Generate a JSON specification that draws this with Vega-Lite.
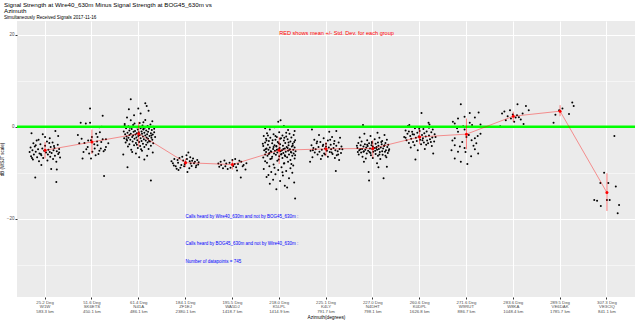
{
"$schema":"https://vega.github.io/schema/vega-lite/v6.json",
"width":618,"height":276,
"autosize":{"type":"none"},
"padding":{"left":17,"top":21,"right":5,"bottom":26},
"background":"white",
"config":{"font":"Liberation Sans","view":{"fill":"#EBEBEB","stroke":null}},
"title":{"text":["Signal Strength at Wire40_630m Minus Signal Strength at BOG45_630m vs","Azimuth"],"subtitle":"Simultaneously Received Signals 2017-11-16","anchor":"start","frame":"group","dx":-13,"fontSize":6.2,"fontWeight":"normal","lineHeight":5.5,"subtitleFontSize":4.6,"subtitlePadding":1.5,"offset":1,"color":"black","subtitleColor":"black"},
"datasets":{
"pts":[
{"g":1,"j":-0.29,"v":-1.4},{"g":1,"j":-0.05,"v":-1.6},{"g":1,"j":0.22,"v":-0.9},{"g":1,"j":0.1,"v":-2.5},{"g":1,"j":-0.18,"v":-3.0},{"g":1,"j":0.04,"v":-3.2},{"g":1,"j":0.16,"v":-3.4},{"g":1,"j":-0.25,"v":-3.6},{"g":1,"j":-0.1,"v":-3.8},{"g":1,"j":0.27,"v":-3.9},{"g":1,"j":0.0,"v":-4.1},{"g":1,"j":-0.22,"v":-4.3},{"g":1,"j":0.12,"v":-4.4},{"g":1,"j":-0.31,"v":-4.5},{"g":1,"j":0.2,"v":-4.6},{"g":1,"j":-0.06,"v":-4.7},{"g":1,"j":0.3,"v":-4.8},{"g":1,"j":-0.15,"v":-4.9},{"g":1,"j":0.07,"v":-5.0},{"g":1,"j":-0.27,"v":-5.1},{"g":1,"j":0.18,"v":-5.1},{"g":1,"j":-0.02,"v":-5.2},{"g":1,"j":0.25,"v":-5.3},{"g":1,"j":-0.2,"v":-5.4},{"g":1,"j":0.1,"v":-5.5},{"g":1,"j":-0.33,"v":-5.5},{"g":1,"j":0.02,"v":-5.6},{"g":1,"j":0.14,"v":-5.7},{"g":1,"j":-0.12,"v":-5.8},{"g":1,"j":0.28,"v":-5.9},{"g":1,"j":-0.24,"v":-6.0},{"g":1,"j":0.06,"v":-6.0},{"g":1,"j":-0.08,"v":-6.2},{"g":1,"j":0.21,"v":-6.3},{"g":1,"j":-0.3,"v":-6.4},{"g":1,"j":0.11,"v":-6.5},{"g":1,"j":-0.17,"v":-6.6},{"g":1,"j":0.32,"v":-6.7},{"g":1,"j":-0.04,"v":-6.8},{"g":1,"j":0.17,"v":-7.0},{"g":1,"j":-0.26,"v":-7.1},{"g":1,"j":0.05,"v":-7.3},{"g":1,"j":-0.13,"v":-7.5},{"g":1,"j":0.24,"v":-7.6},{"g":1,"j":-0.2,"v":-4.0},{"g":1,"j":0.09,"v":-3.5},{"g":1,"j":-0.09,"v":-5.9},{"g":1,"j":0.19,"v":-4.2},{"g":1,"j":0.3,"v":-5.6},{"g":1,"j":-0.28,"v":-6.8},{"g":1,"j":0.13,"v":-9.2},{"g":1,"j":0.25,"v":-9.3},{"g":1,"j":-0.08,"v":-8.3},{"g":1,"j":-0.21,"v":-11.0},{"g":1,"j":0.24,"v":-12.0},{"g":1,"j":0.0,"v":-2.2},{"g":1,"j":-0.14,"v":-2.8},{"g":1,"j":0.28,"v":-2.0},
{"g":2,"j":-0.04,"v":4.0},{"g":2,"j":0.23,"v":2.4},{"g":2,"j":-0.24,"v":0.9},{"g":2,"j":-0.13,"v":0.7},{"g":2,"j":-0.04,"v":0.9},{"g":2,"j":0.16,"v":-0.1},{"g":2,"j":0.21,"v":0.0},{"g":2,"j":0.12,"v":-2.2},{"g":2,"j":0.23,"v":-2.7},{"g":2,"j":0.11,"v":-3.2},{"g":2,"j":-0.27,"v":-3.6},{"g":2,"j":-0.16,"v":-3.5},{"g":2,"j":-0.02,"v":-2.9},{"g":2,"j":0.12,"v":-4.0},{"g":2,"j":0.19,"v":-4.7},{"g":2,"j":0.16,"v":-5.2},{"g":2,"j":0.01,"v":-5.4},{"g":2,"j":-0.06,"v":-5.8},{"g":2,"j":0.06,"v":-4.7},{"g":2,"j":0.3,"v":-2.7},{"g":2,"j":-0.2,"v":-6.9},{"g":2,"j":-0.02,"v":-6.9},{"g":2,"j":0.14,"v":-5.9},{"g":2,"j":0.26,"v":-10.7},{"g":2,"j":0.0,"v":-2.2},{"g":2,"j":-0.09,"v":-4.4},{"g":2,"j":0.25,"v":-5.3},{"g":2,"j":0.09,"v":-1.5},{"g":2,"j":0.35,"v":-3.6},{"g":2,"j":-0.3,"v":-1.8},{"g":2,"j":0.05,"v":-3.8},{"g":2,"j":-0.12,"v":-4.9},{"g":2,"j":0.2,"v":-3.3},{"g":2,"j":0.3,"v":-4.4},{"g":2,"j":-0.22,"v":-2.6},{"g":2,"j":0.17,"v":-1.2},{"g":2,"j":-0.08,"v":-3.0},{"g":2,"j":0.08,"v":-6.2},{"g":2,"j":0.28,"v":-5.0},{"g":2,"j":-0.18,"v":-5.5},
{"g":3,"j":-0.17,"v":6.0},{"g":3,"j":0.14,"v":5.1},{"g":3,"j":0.17,"v":4.5},{"g":3,"j":-0.01,"v":4.0},{"g":3,"j":-0.21,"v":3.8},{"g":3,"j":0.21,"v":3.5},{"g":3,"j":-0.1,"v":2.5},{"g":3,"j":0.04,"v":2.9},{"g":3,"j":-0.17,"v":1.4},{"g":3,"j":0.29,"v":1.2},{"g":3,"j":0.1,"v":1.0},{"g":3,"j":-0.25,"v":2.0},
{"g":3,"j":0.02,"v":0.8},{"g":3,"j":-0.3,"v":0.6},{"g":3,"j":0.25,"v":0.5},{"g":3,"j":-0.12,"v":0.4},{"g":3,"j":0.08,"v":0.3},{"g":3,"j":0.19,"v":0.2},{"g":3,"j":-0.22,"v":0.1},{"g":3,"j":0.31,"v":0.0},{"g":3,"j":-0.05,"v":-0.1},{"g":3,"j":0.13,"v":-0.2},
{"g":3,"j":-0.27,"v":-0.3},{"g":3,"j":0.04,"v":-0.3},{"g":3,"j":0.22,"v":-0.4},{"g":3,"j":-0.15,"v":-0.5},{"g":3,"j":0.1,"v":-0.5},{"g":3,"j":-0.02,"v":-0.6},{"g":3,"j":0.28,"v":-0.7},{"g":3,"j":-0.2,"v":-0.8},{"g":3,"j":0.16,"v":-0.8},{"g":3,"j":-0.08,"v":-0.9},
{"g":3,"j":0.06,"v":-1.0},{"g":3,"j":-0.32,"v":-1.0},{"g":3,"j":0.2,"v":-1.1},{"g":3,"j":-0.11,"v":-1.1},{"g":3,"j":0.33,"v":-1.2},{"g":3,"j":0.0,"v":-1.2},{"g":3,"j":-0.24,"v":-1.3},{"g":3,"j":0.12,"v":-1.3},{"g":3,"j":-0.04,"v":-1.4},{"g":3,"j":0.26,"v":-1.4},
{"g":3,"j":-0.17,"v":-1.5},{"g":3,"j":0.07,"v":-1.5},{"g":3,"j":-0.29,"v":-1.6},{"g":3,"j":0.18,"v":-1.6},{"g":3,"j":-0.07,"v":-1.7},{"g":3,"j":0.3,"v":-1.7},{"g":3,"j":0.02,"v":-1.8},{"g":3,"j":-0.2,"v":-1.8},{"g":3,"j":0.14,"v":-1.9},{"g":3,"j":-0.12,"v":-1.9},
{"g":3,"j":0.23,"v":-2.0},{"g":3,"j":-0.01,"v":-2.0},{"g":3,"j":-0.26,"v":-2.1},{"g":3,"j":0.09,"v":-2.1},{"g":3,"j":0.35,"v":-2.2},{"g":3,"j":-0.14,"v":-2.2},{"g":3,"j":0.17,"v":-2.3},{"g":3,"j":-0.05,"v":-2.3},{"g":3,"j":0.27,"v":-2.4},{"g":3,"j":-0.22,"v":-2.4},
{"g":3,"j":0.04,"v":-2.5},{"g":3,"j":-0.31,"v":-2.5},{"g":3,"j":0.2,"v":-2.6},{"g":3,"j":-0.09,"v":-2.6},{"g":3,"j":0.11,"v":-2.7},{"g":3,"j":-0.18,"v":-2.8},{"g":3,"j":0.29,"v":-2.8},{"g":3,"j":-0.03,"v":-2.9},{"g":3,"j":0.15,"v":-3.0},{"g":3,"j":-0.25,"v":-3.0},
{"g":3,"j":0.06,"v":-3.1},{"g":3,"j":0.24,"v":-3.2},{"g":3,"j":-0.13,"v":-3.2},{"g":3,"j":0.01,"v":-3.3},{"g":3,"j":-0.28,"v":-3.4},{"g":3,"j":0.19,"v":-3.4},{"g":3,"j":-0.06,"v":-3.5},{"g":3,"j":0.31,"v":-3.6},{"g":3,"j":0.09,"v":-3.7},{"g":3,"j":-0.2,"v":-3.8},
{"g":3,"j":0.16,"v":-3.9},{"g":3,"j":-0.1,"v":-4.0},{"g":3,"j":0.26,"v":-4.1},{"g":3,"j":0.03,"v":-4.2},{"g":3,"j":-0.23,"v":-4.3},{"g":3,"j":0.12,"v":-4.4},{"g":3,"j":-0.02,"v":-4.6},{"g":3,"j":0.21,"v":-4.8},{"g":3,"j":-0.16,"v":-5.0},{"g":3,"j":0.07,"v":-5.2},
{"g":3,"j":-0.3,"v":0.3},{"g":3,"j":0.33,"v":-0.4},{"g":3,"j":-0.09,"v":0.7},{"g":3,"j":0.14,"v":1.5},{"g":3,"j":-0.19,"v":-0.2},{"g":3,"j":0.27,"v":-1.9},{"g":3,"j":-0.26,"v":-2.7},{"g":3,"j":0.1,"v":-0.6},{"g":3,"j":-0.04,"v":-3.9},{"g":3,"j":0.22,"v":-3.1},
{"g":3,"j":-0.06,"v":-5.8},{"g":3,"j":0.18,"v":-6.3},{"g":3,"j":-0.24,"v":-8.8},{"g":3,"j":0.26,"v":-11.7},{"g":3,"j":0.01,"v":-6.6},{"g":3,"j":-0.14,"v":-5.5},{"g":3,"j":0.3,"v":-5.6},{"g":3,"j":0.12,"v":-7.1},{"g":3,"j":-0.33,"v":-6.0},{"g":3,"j":0.05,"v":-4.9},
{"g":4,"j":0.06,"v":-5.6},{"g":4,"j":0.02,"v":-6.2},{"g":4,"j":0.2,"v":-7.6},{"g":4,"j":-0.16,"v":-7.8},{"g":4,"j":-0.09,"v":-8.3},{"g":4,"j":0.13,"v":-8.5},{"g":4,"j":-0.19,"v":-9.1},{"g":4,"j":0.04,"v":-9.8},{"g":4,"j":-0.05,"v":-7.3},{"g":4,"j":0.09,"v":-7.5},{"g":4,"j":-0.24,"v":-7.0},{"g":4,"j":0.25,"v":-7.2},{"g":4,"j":-0.13,"v":-6.8},{"g":4,"j":0.16,"v":-6.9},{"g":4,"j":0.0,"v":-7.7},{"g":4,"j":-0.21,"v":-8.6},{"g":4,"j":0.22,"v":-8.8},{"g":4,"j":-0.02,"v":-8.1},{"g":4,"j":0.11,"v":-8.0},{"g":4,"j":-0.27,"v":-7.9},{"g":4,"j":0.27,"v":-8.2},{"g":4,"j":-0.07,"v":-6.5},{"g":4,"j":0.08,"v":-9.0},{"g":4,"j":-0.17,"v":-7.2},{"g":4,"j":0.18,"v":-7.9},{"g":4,"j":-0.11,"v":-8.9},{"g":4,"j":0.03,"v":-7.0},{"g":4,"j":0.23,"v":-8.4},{"g":4,"j":-0.25,"v":-8.4},{"g":4,"j":0.14,"v":-7.4},{"g":4,"j":-0.03,"v":-8.6},{"g":4,"j":0.1,"v":-6.6},{"g":4,"j":-0.15,"v":-9.4},{"g":4,"j":0.28,"v":-7.7},{"g":4,"j":-0.3,"v":-7.5},
{"g":5,"j":-0.25,"v":-7.6},{"g":5,"j":-0.15,"v":-8.6},{"g":5,"j":0.0,"v":-7.2},{"g":5,"j":0.05,"v":-8.1},{"g":5,"j":0.19,"v":-7.6},{"g":5,"j":0.28,"v":-9.3},{"g":5,"j":0.12,"v":-8.1},{"g":5,"j":0.18,"v":-11.0},{"g":5,"j":-0.2,"v":-9.0},{"g":5,"j":-0.3,"v":-8.0},{"g":5,"j":0.08,"v":-8.8},{"g":5,"j":-0.06,"v":-7.8},{"g":5,"j":0.24,"v":-8.3},{"g":5,"j":-0.1,"v":-9.2},{"g":5,"j":0.15,"v":-7.4},{"g":5,"j":-0.28,"v":-8.7},{"g":5,"j":0.02,"v":-8.5},{"g":5,"j":0.3,"v":-7.9},{"g":5,"j":-0.17,"v":-7.3},{"g":5,"j":0.1,"v":-9.5},{"g":5,"j":-0.04,"v":-8.9},{"g":5,"j":0.22,"v":-8.6},{"g":5,"j":-0.24,"v":-8.3},{"g":5,"j":0.06,"v":-7.0},{"g":5,"j":-0.13,"v":-8.0},
{"g":6,"j":-0.02,"v":1.1},{"g":6,"j":0.03,"v":1.4},{"g":6,"j":-0.2,"v":-0.6},{"g":6,"j":0.19,"v":-0.7},{"g":6,"j":0.33,"v":-0.9},{"g":6,"j":-0.3,"v":-0.3},{"g":6,"j":0.1,"v":0.2},{"g":6,"j":-0.1,"v":-0.1},
{"g":6,"j":0.0,"v":-1.2},{"g":6,"j":-0.26,"v":-1.4},{"g":6,"j":0.22,"v":-1.5},{"g":6,"j":-0.12,"v":-1.6},{"g":6,"j":0.31,"v":-1.8},{"g":6,"j":0.07,"v":-1.9},{"g":6,"j":-0.33,"v":-2.0},{"g":6,"j":0.15,"v":-2.1},{"g":6,"j":-0.05,"v":-2.2},{"g":6,"j":0.26,"v":-2.3},
{"g":6,"j":-0.19,"v":-2.4},{"g":6,"j":0.04,"v":-2.5},{"g":6,"j":-0.28,"v":-2.6},{"g":6,"j":0.18,"v":-2.7},{"g":6,"j":-0.08,"v":-2.8},{"g":6,"j":0.34,"v":-2.9},{"g":6,"j":0.1,"v":-3.0},{"g":6,"j":-0.22,"v":-3.1},{"g":6,"j":0.24,"v":-3.2},{"g":6,"j":-0.03,"v":-3.3},
{"g":6,"j":-0.3,"v":-3.4},{"g":6,"j":0.13,"v":-3.5},{"g":6,"j":-0.15,"v":-3.6},{"g":6,"j":0.29,"v":-3.7},{"g":6,"j":0.02,"v":-3.8},{"g":6,"j":-0.24,"v":-3.9},{"g":6,"j":0.2,"v":-4.0},{"g":6,"j":-0.1,"v":-4.0},{"g":6,"j":0.08,"v":-4.1},{"g":6,"j":-0.34,"v":-4.2},
{"g":6,"j":0.27,"v":-4.3},{"g":6,"j":-0.06,"v":-4.3},{"g":6,"j":0.16,"v":-4.4},{"g":6,"j":-0.2,"v":-4.5},{"g":6,"j":0.33,"v":-4.5},{"g":6,"j":0.01,"v":-4.6},{"g":6,"j":-0.27,"v":-4.7},{"g":6,"j":0.12,"v":-4.7},{"g":6,"j":-0.13,"v":-4.8},{"g":6,"j":0.23,"v":-4.9},
{"g":6,"j":-0.02,"v":-4.9},{"g":6,"j":0.3,"v":-5.0},{"g":6,"j":-0.23,"v":-5.0},{"g":6,"j":0.06,"v":-5.1},{"g":6,"j":-0.32,"v":-5.1},{"g":6,"j":0.19,"v":-5.2},{"g":6,"j":-0.09,"v":-5.2},{"g":6,"j":0.35,"v":-5.3},{"g":6,"j":0.03,"v":-5.3},{"g":6,"j":-0.17,"v":-5.4},
{"g":6,"j":0.14,"v":-5.4},{"g":6,"j":-0.28,"v":-5.5},{"g":6,"j":0.25,"v":-5.5},{"g":6,"j":-0.04,"v":-5.6},{"g":6,"j":0.09,"v":-5.7},{"g":6,"j":-0.21,"v":-5.7},{"g":6,"j":0.31,"v":-5.8},{"g":6,"j":-0.11,"v":-5.8},{"g":6,"j":0.05,"v":-5.9},{"g":6,"j":-0.3,"v":-6.0},
{"g":6,"j":0.21,"v":-6.0},{"g":6,"j":-0.07,"v":-6.1},{"g":6,"j":0.12,"v":-6.2},{"g":6,"j":-0.25,"v":-6.3},{"g":6,"j":0.28,"v":-6.3},{"g":6,"j":0.0,"v":-6.4},{"g":6,"j":-0.15,"v":-6.5},{"g":6,"j":0.17,"v":-6.6},{"g":6,"j":-0.34,"v":-6.7},{"g":6,"j":0.07,"v":-6.8},
{"g":6,"j":0.33,"v":-6.9},{"g":6,"j":-0.19,"v":-7.0},{"g":6,"j":-0.01,"v":-7.1},{"g":6,"j":0.24,"v":-7.2},{"g":6,"j":-0.27,"v":-3.0},{"g":6,"j":0.11,"v":-2.4},{"g":6,"j":-0.12,"v":-4.4},{"g":6,"j":0.2,"v":-3.4},{"g":6,"j":-0.05,"v":-5.0},{"g":6,"j":0.29,"v":-4.1},
{"g":6,"j":-0.22,"v":-5.9},{"g":6,"j":0.15,"v":-1.3},{"g":6,"j":-0.35,"v":-3.7},{"g":6,"j":0.04,"v":-6.0},{"g":6,"j":0.26,"v":-5.6},{"g":6,"j":-0.08,"v":-2.0},{"g":6,"j":0.18,"v":-4.6},{"g":6,"j":-0.16,"v":-6.9},{"g":6,"j":0.32,"v":-3.3},{"g":6,"j":-0.29,"v":-4.9},
{"g":6,"j":0.09,"v":-4.8},{"g":6,"j":-0.14,"v":-2.9},{"g":6,"j":0.22,"v":-5.0},{"g":6,"j":-0.01,"v":-3.6},{"g":6,"j":0.13,"v":-6.4},{"g":6,"j":-0.24,"v":-1.9},{"g":6,"j":0.34,"v":-6.2},{"g":6,"j":-0.06,"v":-4.2},{"g":6,"j":0.02,"v":-2.6},{"g":6,"j":-0.18,"v":-5.3},
{"g":6,"j":-0.04,"v":-7.4},{"g":6,"j":0.19,"v":-7.6},{"g":6,"j":-0.26,"v":-7.8},{"g":6,"j":0.1,"v":-8.0},{"g":6,"j":-0.12,"v":-8.2},{"g":6,"j":0.3,"v":-8.4},{"g":6,"j":-0.21,"v":-8.6},{"g":6,"j":0.05,"v":-8.8},{"g":6,"j":0.24,"v":-9.0},{"g":6,"j":-0.33,"v":-9.2},
{"g":6,"j":-0.02,"v":-9.4},{"g":6,"j":0.15,"v":-9.6},{"g":6,"j":-0.17,"v":-9.8},{"g":6,"j":0.28,"v":-10.0},{"g":6,"j":-0.08,"v":-10.3},{"g":6,"j":0.08,"v":-10.6},{"g":6,"j":-0.27,"v":-10.9},{"g":6,"j":0.21,"v":-11.2},{"g":6,"j":-0.13,"v":-11.5},{"g":6,"j":0.02,"v":-11.8},
{"g":6,"j":0.32,"v":-12.1},{"g":6,"j":-0.2,"v":-12.4},{"g":6,"j":0.12,"v":-12.8},{"g":6,"j":0.17,"v":-13.2},{"g":6,"j":-0.06,"v":-13.6},{"g":6,"j":0.34,"v":-15.6},{"g":6,"j":-0.3,"v":-7.5},{"g":6,"j":0.26,"v":-8.1},{"g":6,"j":-0.1,"v":-8.9},{"g":6,"j":0.07,"v":-9.9},{"g":6,"j":-0.23,"v":-10.5},{"g":6,"j":0.11,"v":-7.9},
{"g":7,"j":-0.3,"v":-0.6},{"g":7,"j":0.07,"v":-1.1},{"g":7,"j":0.22,"v":-0.9},{"g":7,"j":-0.15,"v":-1.8},{"g":7,"j":0.13,"v":-2.2},{"g":7,"j":-0.05,"v":-2.5},{"g":7,"j":0.3,"v":-2.4},{"g":7,"j":-0.25,"v":-2.8},{"g":7,"j":0.04,"v":-3.0},{"g":7,"j":0.18,"v":-3.1},
{"g":7,"j":-0.12,"v":-3.3},{"g":7,"j":0.27,"v":-3.4},{"g":7,"j":-0.2,"v":-3.6},{"g":7,"j":0.0,"v":-3.7},{"g":7,"j":0.1,"v":-3.9},{"g":7,"j":-0.31,"v":-4.0},{"g":7,"j":0.22,"v":-4.1},{"g":7,"j":-0.07,"v":-4.2},{"g":7,"j":0.33,"v":-4.3},{"g":7,"j":-0.16,"v":-4.4},
{"g":7,"j":0.06,"v":-4.5},{"g":7,"j":-0.27,"v":-4.6},{"g":7,"j":0.16,"v":-4.6},{"g":7,"j":-0.02,"v":-4.7},{"g":7,"j":0.29,"v":-4.8},{"g":7,"j":-0.22,"v":-4.9},{"g":7,"j":0.11,"v":-4.9},{"g":7,"j":-0.09,"v":-5.0},{"g":7,"j":0.2,"v":-5.1},{"g":7,"j":-0.33,"v":-5.2},
{"g":7,"j":0.02,"v":-5.2},{"g":7,"j":0.25,"v":-5.3},{"g":7,"j":-0.14,"v":-5.4},{"g":7,"j":0.08,"v":-5.5},{"g":7,"j":-0.24,"v":-5.6},{"g":7,"j":0.32,"v":-5.7},{"g":7,"j":-0.04,"v":-5.8},{"g":7,"j":0.14,"v":-5.9},{"g":7,"j":-0.18,"v":-6.0},{"g":7,"j":0.23,"v":-6.2},
{"g":7,"j":-0.08,"v":-6.3},{"g":7,"j":0.04,"v":-6.5},{"g":7,"j":-0.29,"v":-6.6},{"g":7,"j":0.19,"v":-6.8},{"g":7,"j":-0.11,"v":-7.0},{"g":7,"j":0.28,"v":-7.2},{"g":7,"j":-0.34,"v":-7.6},{"g":7,"j":0.21,"v":-9.6},{"g":7,"j":0.0,"v":-4.3},{"g":7,"j":-0.19,"v":-3.2},
{"g":7,"j":0.12,"v":-5.6},{"g":7,"j":0.35,"v":-4.9},{"g":7,"j":-0.06,"v":-3.9},{"g":7,"j":0.09,"v":-2.8},{"g":7,"j":-0.28,"v":-5.1},{"g":7,"j":0.26,"v":-6.0},{"g":7,"j":-0.02,"v":-6.0},{"g":7,"j":0.17,"v":-3.7},
{"g":8,"j":-0.21,"v":0.4},{"g":8,"j":-0.18,"v":-1.5},{"g":8,"j":0.1,"v":-1.3},{"g":8,"j":-0.05,"v":-2.0},{"g":8,"j":0.25,"v":-1.8},{"g":8,"j":0.14,"v":-2.4},{"g":8,"j":-0.28,"v":-2.3},{"g":8,"j":0.04,"v":-2.7},{"g":8,"j":-0.12,"v":-2.9},{"g":8,"j":0.3,"v":-2.8},
{"g":8,"j":0.2,"v":-3.1},{"g":8,"j":-0.24,"v":-3.2},{"g":8,"j":-0.02,"v":-3.3},{"g":8,"j":0.11,"v":-3.4},{"g":8,"j":-0.31,"v":-3.5},{"g":8,"j":0.27,"v":-3.5},{"g":8,"j":-0.08,"v":-3.6},{"g":8,"j":0.06,"v":-3.7},{"g":8,"j":-0.17,"v":-3.8},{"g":8,"j":0.19,"v":-3.8},
{"g":8,"j":0.33,"v":-3.9},{"g":8,"j":-0.03,"v":-4.0},{"g":8,"j":-0.26,"v":-4.0},{"g":8,"j":0.12,"v":-4.1},{"g":8,"j":-0.11,"v":-4.2},{"g":8,"j":0.24,"v":-4.2},{"g":8,"j":0.0,"v":-4.3},{"g":8,"j":-0.2,"v":-4.3},{"g":8,"j":0.08,"v":-4.4},{"g":8,"j":0.31,"v":-4.4},
{"g":8,"j":-0.14,"v":-4.5},{"g":8,"j":0.17,"v":-4.5},{"g":8,"j":-0.33,"v":-4.6},{"g":8,"j":0.03,"v":-4.6},{"g":8,"j":-0.06,"v":-4.7},{"g":8,"j":0.22,"v":-4.7},{"g":8,"j":0.13,"v":-4.8},{"g":8,"j":-0.23,"v":-4.8},{"g":8,"j":0.35,"v":-4.9},{"g":8,"j":-0.01,"v":-4.9},
{"g":8,"j":-0.16,"v":-5.0},{"g":8,"j":0.09,"v":-5.0},{"g":8,"j":0.28,"v":-5.1},{"g":8,"j":-0.29,"v":-5.1},{"g":8,"j":0.05,"v":-5.2},{"g":8,"j":-0.1,"v":-5.2},{"g":8,"j":0.2,"v":-5.3},{"g":8,"j":-0.19,"v":-5.3},{"g":8,"j":0.01,"v":-5.4},{"g":8,"j":0.26,"v":-5.4},
{"g":8,"j":-0.07,"v":-5.5},{"g":8,"j":0.15,"v":-5.5},{"g":8,"j":-0.25,"v":-5.6},{"g":8,"j":0.32,"v":-5.7},{"g":8,"j":-0.13,"v":-5.8},{"g":8,"j":0.06,"v":-5.9},{"g":8,"j":-0.3,"v":-6.0},{"g":8,"j":0.21,"v":-6.1},{"g":8,"j":-0.04,"v":-6.2},{"g":8,"j":0.11,"v":-6.3},
{"g":8,"j":-0.22,"v":-6.5},{"g":8,"j":0.29,"v":-6.6},{"g":8,"j":0.0,"v":-6.8},{"g":8,"j":-0.15,"v":-6.9},{"g":8,"j":0.16,"v":-7.0},{"g":8,"j":-0.19,"v":-7.6},{"g":8,"j":-0.09,"v":-9.8},{"g":8,"j":0.12,"v":-8.8},{"g":8,"j":0.3,"v":-8.7},{"g":8,"j":0.23,"v":-11.2},
{"g":8,"j":-0.08,"v":-11.7},{"g":8,"j":0.09,"v":-7.9},{"g":8,"j":-0.34,"v":-4.1},{"g":8,"j":0.34,"v":-5.2},{"g":8,"j":-0.27,"v":-4.9},{"g":8,"j":0.18,"v":-3.3},{"g":8,"j":-0.05,"v":-5.7},{"g":8,"j":0.25,"v":-4.0},{"g":8,"j":-0.12,"v":-3.9},{"g":8,"j":0.07,"v":-4.6},
{"g":8,"j":-0.2,"v":-5.4},{"g":8,"j":0.14,"v":-6.0},{"g":8,"j":-0.02,"v":-3.5},{"g":8,"j":0.27,"v":-6.3},{"g":8,"j":-0.32,"v":-5.5},
{"g":9,"j":0.04,"v":3.0},{"g":9,"j":-0.22,"v":0.4},{"g":9,"j":0.21,"v":0.5},{"g":9,"j":0.19,"v":0.9},{"g":9,"j":-0.25,"v":0.2},{"g":9,"j":-0.1,"v":-0.3},{"g":9,"j":0.08,"v":-0.5},{"g":9,"j":0.28,"v":-0.6},{"g":9,"j":-0.3,"v":-0.8},{"g":9,"j":0.0,"v":-0.9},
{"g":9,"j":0.15,"v":-1.0},{"g":9,"j":-0.16,"v":-1.1},{"g":9,"j":0.25,"v":-1.2},{"g":9,"j":-0.05,"v":-1.3},{"g":9,"j":0.1,"v":-1.4},{"g":9,"j":-0.26,"v":-1.5},{"g":9,"j":0.32,"v":-1.6},{"g":9,"j":-0.12,"v":-1.7},{"g":9,"j":0.05,"v":-1.8},{"g":9,"j":0.2,"v":-1.9},
{"g":9,"j":-0.2,"v":-2.0},{"g":9,"j":-0.02,"v":-2.1},{"g":9,"j":0.13,"v":-2.1},{"g":9,"j":-0.33,"v":-2.2},{"g":9,"j":0.27,"v":-2.3},{"g":9,"j":-0.08,"v":-2.4},{"g":9,"j":0.07,"v":-2.5},{"g":9,"j":-0.18,"v":-2.6},{"g":9,"j":0.22,"v":-2.7},{"g":9,"j":0.01,"v":-2.8},
{"g":9,"j":-0.28,"v":-2.9},{"g":9,"j":0.16,"v":-3.0},{"g":9,"j":-0.06,"v":-3.1},{"g":9,"j":0.31,"v":-3.2},{"g":9,"j":-0.14,"v":-3.3},{"g":9,"j":0.09,"v":-3.4},{"g":9,"j":-0.23,"v":-3.5},{"g":9,"j":0.18,"v":-3.6},{"g":9,"j":0.03,"v":-3.8},{"g":9,"j":-0.11,"v":-4.0},
{"g":9,"j":0.26,"v":-4.2},{"g":9,"j":-0.19,"v":-4.5},{"g":9,"j":0.11,"v":-4.8},{"g":9,"j":-0.04,"v":-5.1},{"g":9,"j":-0.09,"v":-7.1},{"g":9,"j":0.29,"v":-5.8},{"g":9,"j":-0.23,"v":-1.0},{"g":9,"j":0.34,"v":-2.2},{"g":9,"j":-0.01,"v":-0.4},{"g":9,"j":0.14,"v":-3.9},
{"g":9,"j":-0.3,"v":-2.4},{"g":9,"j":0.2,"v":-0.2},{"g":9,"j":-0.15,"v":-1.6},{"g":9,"j":0.06,"v":-2.9},{"g":9,"j":0.24,"v":-3.3},
{"g":10,"j":-0.12,"v":4.9},{"g":10,"j":0.07,"v":3.0},{"g":10,"j":0.26,"v":3.1},{"g":10,"j":-0.04,"v":2.2},{"g":10,"j":-0.18,"v":1.8},{"g":10,"j":0.18,"v":2.0},{"g":10,"j":-0.29,"v":1.1},{"g":10,"j":-0.25,"v":0.7},{"g":10,"j":0.07,"v":0.9},{"g":10,"j":0.12,"v":0.4},
{"g":10,"j":-0.07,"v":0.1},{"g":10,"j":-0.04,"v":-0.6},{"g":10,"j":-0.18,"v":-1.1},{"g":10,"j":0.0,"v":-2.2},{"g":10,"j":-0.25,"v":-2.5},{"g":10,"j":-0.09,"v":-3.3},{"g":10,"j":0.11,"v":-2.9},{"g":10,"j":0.18,"v":-2.5},{"g":10,"j":0.21,"v":-3.6},{"g":10,"j":-0.25,"v":-4.0},
{"g":10,"j":-0.14,"v":-4.3},{"g":10,"j":-0.04,"v":-4.6},{"g":10,"j":0.18,"v":-4.9},{"g":10,"j":0.25,"v":-5.8},{"g":10,"j":-0.25,"v":-6.9},{"g":10,"j":-0.12,"v":-7.6},{"g":10,"j":0.02,"v":-8.1},{"g":10,"j":-0.18,"v":-5.4},{"g":10,"j":-0.32,"v":-5.1},{"g":10,"j":0.3,"v":-1.5},
{"g":10,"j":0.05,"v":-1.8},{"g":10,"j":-0.2,"v":-0.3},{"g":10,"j":0.3,"v":0.5},{"g":10,"j":0.15,"v":-4.1},{"g":10,"j":-0.02,"v":-5.5},{"g":10,"j":0.24,"v":-2.0},{"g":10,"j":-0.3,"v":-3.0},{"g":10,"j":0.1,"v":-6.4},
{"g":11,"j":0.09,"v":4.9},{"g":11,"j":0.27,"v":4.5},{"g":11,"j":-0.19,"v":3.3},{"g":11,"j":-0.24,"v":2.9},{"g":11,"j":-0.01,"v":2.7},{"g":11,"j":0.2,"v":2.9},{"g":11,"j":0.08,"v":2.5},{"g":11,"j":-0.05,"v":1.8},{"g":11,"j":0.16,"v":1.6},{"g":11,"j":-0.28,"v":0.1},{"g":11,"j":0.02,"v":1.1},{"g":11,"j":-0.12,"v":2.3},{"g":11,"j":0.33,"v":3.6},{"g":11,"j":0.12,"v":2.1},{"g":11,"j":-0.16,"v":1.4},{"g":11,"j":0.22,"v":0.6},{"g":11,"j":-0.07,"v":3.6},{"g":11,"j":0.05,"v":2.0},
{"g":12,"j":0.26,"v":5.3},{"g":12,"j":0.29,"v":4.5},{"g":12,"j":0.19,"v":2.8},{"g":12,"j":-0.14,"v":0.9},{"g":12,"j":-0.02,"v":3.6},{"g":12,"j":0.05,"v":4.0},{"g":12,"j":-0.1,"v":2.6},
{"g":13,"j":0.16,"v":-2.0},{"g":13,"j":-0.06,"v":-10.0},{"g":13,"j":-0.14,"v":-12.2},{"g":13,"j":0.03,"v":-12.2},{"g":13,"j":-0.27,"v":-15.9},{"g":13,"j":-0.21,"v":-16.1},{"g":13,"j":-0.13,"v":-17.2},{"g":13,"j":0.0,"v":-15.9},{"g":13,"j":0.06,"v":-15.9},{"g":13,"j":0.19,"v":-13.0},{"g":13,"j":0.26,"v":-17.0},{"g":13,"j":0.23,"v":-18.8}
],
"stats":[
{"g":1,"v":-5.1,"lo":-6.9,"hi":-3.3},{"g":2,"v":-3.3,"lo":-5.9,"hi":-0.6},{"g":3,"v":-1.5,"lo":-4.3,"hi":1.1},{"g":4,"v":-7.8,"lo":-8.8,"hi":-6.9},{"g":5,"v":-8.2,"lo":-9.3,"hi":-7.2},{"g":6,"v":-5.1,"lo":-8.1,"hi":-2.2},{"g":7,"v":-4.8,"lo":-6.4,"hi":-3.3},{"g":8,"v":-4.7,"lo":-6.7,"hi":-2.9},{"g":9,"v":-2.2,"lo":-3.8,"hi":-0.6},{"g":10,"v":-1.6,"lo":-4.9,"hi":1.8},{"g":11,"v":2.3,"lo":1.1,"hi":3.3},{"g":12,"v":3.4,"lo":2.3,"hi":4.7},{"g":13,"v":-14.3,"lo":-18.3,"hi":-10.1}
]
},
"layer":[
{"data":{"name":"pts"},"mark":{"type":"circle","color":"black","size":4,"opacity":1},
"encoding":{
"x":{"field":"g","type":"ordinal","scale":{"type":"band","domain":[1,2,3,4,5,6,7,8,9,10,11,12,13],"paddingInner":0,"paddingOuter":0.1},
"axis":{"title":"Azimuth(degrees)","labelExpr":"split(['25.2 Deg|W1W|583.3 km','51.6 Deg|SK6ETS|450.1 km','61.4 Deg|N41A|486.1 km','184.1 Deg|ZF1EJ|2380.1 km','195.5 Deg|WA5DJ|1418.7 km','218.0 Deg|K5LPL|1414.9 km','225.1 Deg|K4LY|791.7 km','227.0 Deg|N4DHT|798.1 km','260.6 Deg|K0DPL|1626.8 km','271.6 Deg|W9RUT|886.7 km','283.6 Deg|W8KA|1048.4 km','289.5 Deg|VE6DAK|1785.7 km','307.3 Deg|VE3CIQ|841.1 km'][datum.value-1], '|')","labelAngle":0,"domain":false,"tickColor":"#333333","tickSize":2,"grid":true,"gridColor":"white","gridWidth":1,"bandPosition":0.5,"labelFontSize":4.3,"labelLineHeight":4.5,"labelColor":"#4D4D4D","labelPadding":1,"labelBaseline":"top","titleFontSize":4.8,"titleFontWeight":"normal","titleColor":"black","titlePadding":1}},
"xOffset":{"field":"j","type":"quantitative","scale":{"domain":[-0.5,0.5],"nice":false,"zero":false}},
"y":{"field":"v","type":"quantitative","scale":{"domain":[-37,23],"nice":false,"zero":false},
"axis":{"title":"dB (WSJT scale)","values":[-30,-20,-10,0,10,20],"labelExpr":"datum.value % 20 === 0 ? datum.label : ''","domain":false,"tickColor":"#333333","tickSize":2,"tickOpacity":{"condition":{"test":"datum.value % 20 !== 0","value":0},"value":1},"gridColor":"white","gridWidth":{"condition":{"test":"datum.value % 20 === 0","value":1},"value":0.5},"labelFontSize":4.5,"labelColor":"#4D4D4D","labelPadding":1,"titleFontSize":4.5,"titleFontWeight":"normal","titleColor":"black","titlePadding":2}}
}},
{"data":{"values":[{"v":0}]},"mark":{"type":"rule","color":"#00FF00","strokeWidth":2.5},"encoding":{"y":{"field":"v","type":"quantitative"}}},
{"data":{"name":"stats"},"mark":{"type":"line","color":"#FF0000","opacity":0.4,"strokeWidth":1},"encoding":{"x":{"field":"g","type":"ordinal"},"y":{"field":"v","type":"quantitative"}}},
{"data":{"name":"stats"},"mark":{"type":"rule","color":"#FF0000","opacity":0.5,"strokeWidth":1},"encoding":{"x":{"field":"g","type":"ordinal"},"y":{"field":"lo","type":"quantitative"},"y2":{"field":"hi"}}},
{"data":{"name":"stats"},"mark":{"type":"circle","color":"#FF0000","size":9,"opacity":1},"encoding":{"x":{"field":"g","type":"ordinal"},"y":{"field":"v","type":"quantitative"}}},
{"data":{"values":[{"g":6,"v":20.3,"t":"RED shows mean +/- Std. Dev. for each group"}]},"mark":{"type":"text","color":"#FF0000","fontSize":5.6,"align":"left","baseline":"middle"},"encoding":{"x":{"field":"g","type":"ordinal"},"y":{"field":"v","type":"quantitative"},"text":{"field":"t"}}},
{"data":{"values":[{"g":4,"v":-19.7,"t":"Calls heard by Wire40_630m and not by BOG45_630m :"},{"g":4,"v":-25.5,"t":"Calls heard by BOG45_630m and not by Wire40_630m :"},{"g":4,"v":-29.4,"t":"Number of datapoints = 745"}]},"mark":{"type":"text","color":"#0000FF","fontSize":4.5,"align":"left","baseline":"middle"},"encoding":{"x":{"field":"g","type":"ordinal"},"y":{"field":"v","type":"quantitative"},"text":{"field":"t"}}}
]
}
